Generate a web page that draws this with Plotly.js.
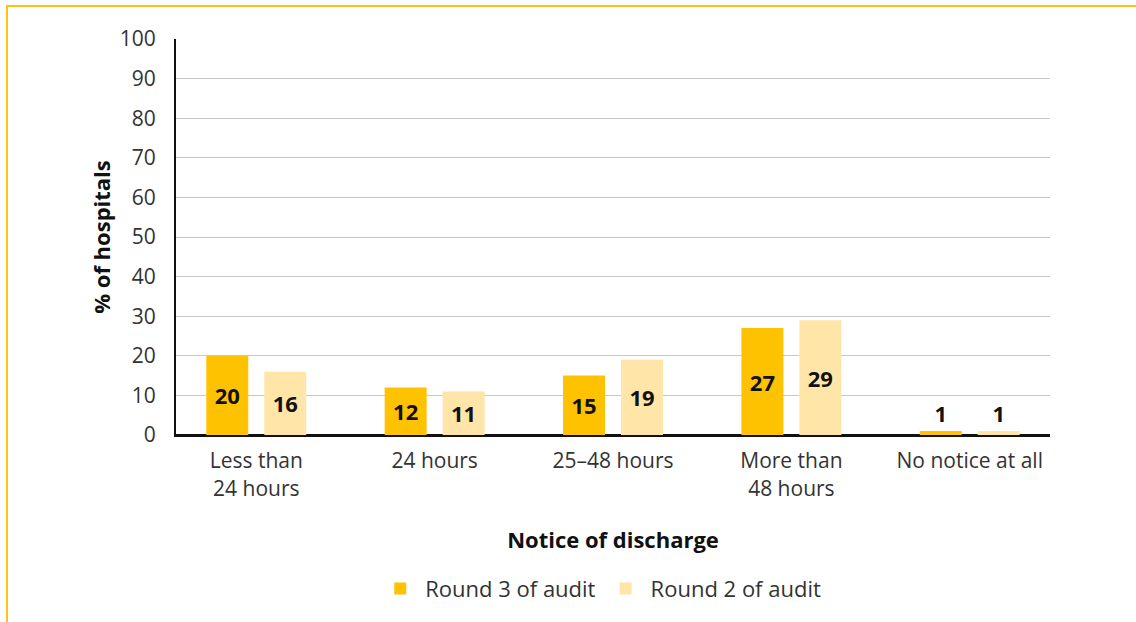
<!DOCTYPE html>
<html><head><meta charset="utf-8">
<script src="https://cdn.plot.ly/plotly-3.0.1.min.js"></script>
<style>
body{margin:0;padding:0;background:#fff;}
#wrap{position:relative;width:1136px;height:622px;}
#chart{position:absolute;left:0;top:0;width:1136px;height:622px;}
#frame{position:absolute;left:6px;top:5px;width:1140px;height:630px;border-top:2px solid #FFC20E;border-left:2px solid #FFC20E;pointer-events:none;}
</style></head>
<body>
<div id="wrap"><div id="chart"></div><div id="frame"></div></div>
<script>
const categories = ["Less than<br>24 hours", "24 hours", "25–48 hours", "More than<br>48 hours", "No notice at all"];
const round3 = [20, 12, 15, 27, 1];
const round2 = [16, 11, 19, 29, 1];
const yTicks = [0,10,20,30,40,50,60,70,80,90,100];

const font = "'Open Sans', sans-serif";
function pos(v){ return v.map(x => x < 5 ? 'outside' : 'inside'); }

const traces = [
  {type:'bar', name:'Round 3 of audit', x:categories, y:round3, marker:{color:'#FFC200'},
   text:round3.map(String), textposition:pos(round3), insidetextanchor:'middle',
   textfont:{family:font, size:22, color:'#111', weight:700}, cliponaxis:false},
  {type:'bar', name:'Round 2 of audit', x:categories, y:round2, marker:{color:'#FFE6A8'},
   text:round2.map(String), textposition:pos(round2), insidetextanchor:'middle',
   textfont:{family:font, size:22, color:'#111', weight:700}, cliponaxis:false}
];

const layout = {
  width:1136, height:622,
  margin:{l:176, r:86, t:39, b:187},
  paper_bgcolor:'#fff', plot_bgcolor:'#fff',
  font:{family:font, size:22, color:'#333'},
  barmode:'group', bargap:0.35, bargroupgap:0.276,
  showlegend:true,
  legend:{orientation:'h', x:0.486, xanchor:'center', y:-0.388, yanchor:'middle',
          font:{family:font, size:22, color:'#333'}, traceorder:'normal', itemwidth:40},
  xaxis:{type:'category', range:[-0.45, 4.45], showline:true, linecolor:'#111', linewidth:2,
         ticks:'', ticklabelstandoff:6, tickfont:{family:font, size:21, color:'#333'},
         title:{text:'<b>Notice of discharge</b>', font:{family:font, size:22, color:'#111'}, standoff:32},
         automargin:false, fixedrange:true},
  yaxis:{range:[0,100], tickvals:yTicks, showgrid:true, gridcolor:'#c8c8c8', gridwidth:1,
         showline:true, linecolor:'#111', linewidth:2, zeroline:true, zerolinecolor:'#111', zerolinewidth:2,
         ticks:'', ticklabelstandoff:14, tickfont:{family:font, size:21, color:'#333'},
         title:{text:'<b>% of hospitals</b>', font:{family:font, size:22, color:'#111'}, standoff:3},
         automargin:false, fixedrange:true}
};
Plotly.newPlot('chart', traces, layout, {displayModeBar:false, staticPlot:true});
</script>
</body></html>
